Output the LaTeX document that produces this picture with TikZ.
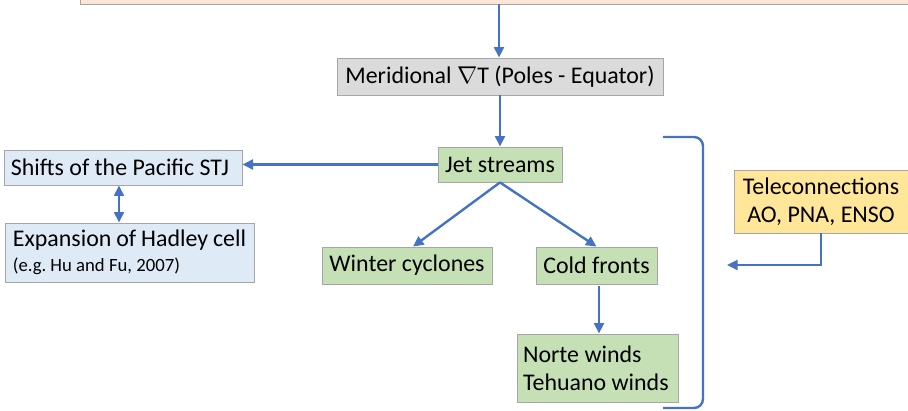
\documentclass[tikz,border=0pt]{standalone}
\usepackage{fontspec}
\setmainfont{Carlito}
\usetikzlibrary{positioning,calc,arrows.meta}

\begin{document}
\begin{tikzpicture}[
      x=0.025cm, y=-0.025cm,
      box/.style = {rectangle, draw=gray!70, line width=0.6pt, inner sep=2pt, font=\fontsize{17}{20}\selectfont},
      grad/.style = {box, fill=gray!28},
      jet/.style = {box, fill={rgb,255:red,197;green,224;blue,180}},
      pac/.style = {box, fill={rgb,255:red,222;green,235;blue,247}},
      tele/.style = {box, fill={rgb,255:red,255;green,230;blue,153}},
      link/.style = {-{Triangle[length=7.5pt,width=7pt]}, draw={rgb,255:red,68;green,114;blue,196}, line width=1.7pt},
      both/.style = {link, {Triangle[length=7.5pt,width=7pt]}-{Triangle[length=7.5pt,width=7pt]}},
      brace/.style = {draw={rgb,255:red,68;green,114;blue,196}, line width=1.7pt}
      ]
      \useasboundingbox (0,0) rectangle (908,410);
      % box cut at the top
      \draw[fill={rgb,255:red,251;green,229;blue,214}, draw=gray!70, line width=0.6pt] (80,-20) rectangle (930,4);
      \coordinate (top) at (499,4);
      \node[grad, minimum width=8.15cm, minimum height=0.925cm] (mer) at (500,76.5) {Meridional $\nabla\mathrm{T}$ (Poles - Equator)};
      \node[jet, minimum width=3.1cm, minimum height=0.875cm] (jet) at (500,164.5) {Jet streams};
      \node[pac, minimum width=5.95cm, minimum height=0.875cm, align=flush left, text width=5.6cm] (stj) at (123,167.5) {Shifts of the Pacific STJ};
      \node[pac, minimum width=6.225cm, minimum height=1.475cm, align=flush left, text width=5.83cm] (had) at (129.5,252.5) {Expansion of Hadley cell\\[-2pt]{\fontsize{13.3}{15}\selectfont (e.g.\ Hu and Fu, 2007)}};
      \node[jet, minimum width=3.025cm, minimum height=0.925cm] (cold) at (596.5,265.5) {Cold fronts};
      \node[jet, minimum width=4.25cm, minimum height=0.925cm] (cyc) at (407,265.5) {Winter cyclones};
      \node[jet, minimum width=4.025cm, minimum height=1.7cm, align=flush left, text width=3.72cm] (norte) at (597.5,368) {Norte winds\\Tehuano winds};
      \node[tele, minimum width=4.35cm, minimum height=1.575cm, align=center] (tel) at (821,201.5) {Teleconnections\\AO, PNA, ENSO};
      \coordinate (brk) at (727,265);
      \draw[link] (top) -- (top |- mer.north);
      \draw[link] (mer) -- (jet);
      \draw[link] (jet.west) -- (jet.west -| stj.east);
      \draw[both] ($(stj.south)+(-4,0)$) -- ($(had.north)+(-10.5,0)$);
      \draw[link] (jet.south) -- ($(cyc.north)+(6,0)$);
      \draw[link] (jet.south) -- (cold.north);
      \draw[link] ($(cold.south)+(2.5,2)$) -- ($(norte.north)+(1.5,0)$);
      \draw[link] (tel.south) |- (brk);
      % bracket
      \draw[brace] (663,137) -- (694,137) to[out=0,in=90] (703,146) -- (703,399) to[out=-90,in=0] (694,408) -- (663,408);
    \end{tikzpicture}
\end{document}
